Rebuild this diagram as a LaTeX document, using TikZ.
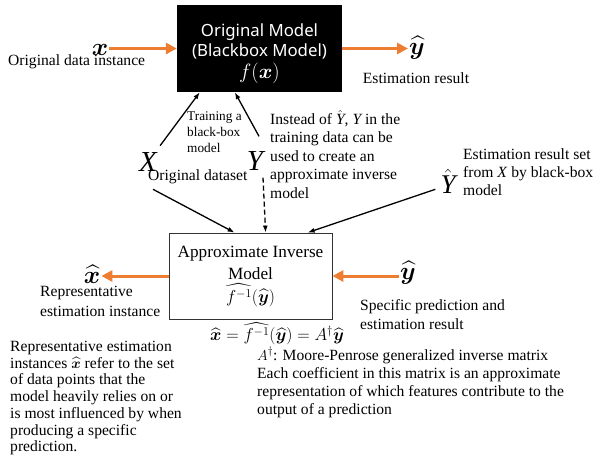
\documentclass[tikz,border=0pt]{standalone}
\usepackage{amsmath,amssymb,bm}
\usepackage{fontspec}
\setmainfont{Liberation Serif}
\newfontfamily\boxsans{Noto Sans}
\usetikzlibrary{arrows.meta}
\definecolor{myorange}{HTML}{ED7D31}
\newcommand\myfs[2]{\fontsize{#1}{#2}\selectfont}
\begin{document}
\begin{tikzpicture}[x=1pt,y=-1pt,
  txt/.style={font=\myfs{15.6}{16.8}, inner sep=0pt},
  para/.style={inner sep=0pt, align=left, anchor=north west},
  bigmath/.style={font=\myfs{24}{24}, inner sep=1pt},
  bigit/.style={font=\myfs{29}{29}\itshape, inner sep=1pt},
  oarrow/.style={draw=myorange, line width=3pt, -{Triangle[length=11pt,width=11pt]}},
  karrow/.style={draw=black, line width=1.3pt, -{Latex[length=7pt,width=5pt]}}]
\useasboundingbox (0,0) rectangle (593,474);

% black box
\node[fill=black, minimum width=165pt, minimum height=87pt, inner sep=0pt] (bb) at (259.5,48.5) {};
\node[text=white, align=center, inner sep=0pt, font=\boxsans\myfs{16.8}{20}] (bbt) at (259.5,53.5)
      {Original Model\\(Blackbox Model)\\[2pt]{\myfs{20}{20}$f(\bm{x})$}};

\node[bigmath] (xin) at (100,50) {$\bm{x}$};
\node[txt, anchor=west] (lab1) at (8,62) {Original data instance};
\draw[oarrow] (xin.east |- bb.west) -- (bb.west);

\node[bigmath] (yout) at (417,48) {$\widehat{\bm{y}}$};
\node[txt] (lab2) at (416,78) {Estimation result};
\draw[oarrow] (bb.east) -- (bb.east -| yout.west);

% dataset
\node[bigit] (X) at (148,162) {X};
\node[bigit] (Y) at (255,161) {Y};
\node[para, font=\myfs{13.3}{16}] (train) at (187,111) {Training a\\black-box\\model};
\node[txt, anchor=west] (ods) at (148,177) {Original dataset};
\node[para, font=\myfs{15.6}{18.5}] (inst) at (270,110)
  {Instead of $\hat{\mathit{Y}}$, $\mathit{Y}$ in the\\training data can be\\used to create an\\approximate inverse\\model};

\draw[karrow, shorten <=7pt] (X) -- ([xshift=23pt]bb.south west);
\draw[karrow] ([xshift=4pt,yshift=14pt]Y.north) -- ([xshift=58pt]bb.south west);

\node[font=\myfs{27}{27}, inner sep=1pt] (Yh) at (448,181) {$\hat{\mathit{Y}}$};
\node[para, font=\myfs{15.6}{18.3}] (est) at (463,148)
  {Estimation result set\\from \textit{X} by black-box\\model};

% approximate inverse model
\node[draw=black!80, line width=0.8pt, minimum width=163pt, minimum height=86pt,
      align=center, font=\myfs{17.2}{22.5}] (ai) at (250.5,276)
      {Approximate Inverse\\Model\\$\widehat{f^{-1}}(\widehat{\bm{y}})$};

\draw[karrow] ([xshift=5pt,yshift=-5pt]ods.south west) -- ([xshift=66pt]ai.north west);
\draw[karrow, dash pattern=on 5pt off 3pt] ([xshift=8pt,yshift=-6pt]Y.south) -- ([xshift=97pt]ai.north west);
\draw[karrow] ([xshift=-4pt,yshift=5pt]Yh.south west) -- ([xshift=139pt]ai.north west);

\node[bigmath] (xh) at (92,274) {$\widehat{\bm{x}}$};
\draw[oarrow] (ai.west) -- (ai.west -| xh.east);
\node[para, font=\myfs{15.6}{20}] (rep) at (40,286) {Representative\\estimation instance};

\node[bigmath] (yh2) at (408,273) {$\widehat{\bm{y}}$};
\draw[oarrow] (yh2.west |- ai.east) -- (ai.east);
\node[para, font=\myfs{15.6}{19}] (spec) at (360,299) {Specific prediction and\\estimation result};

\node[font=\myfs{17}{17}, inner sep=0pt] (eq) at (277,334)
  {$\widehat{\bm{x}} = \widehat{f^{-1}}(\widehat{\bm{y}}) = A^{\dagger}\widehat{\bm{y}}$};

\node[para, font=\myfs{15.6}{16.7}] (bl) at (10,341)
  {Representative estimation\\instances $\widehat{\bm{x}}$ refer to the set\\of data points that the\\model heavily relies on or\\is most influenced by when\\producing a specific\\prediction.};

\node[para, font=\myfs{15.6}{18}] (br) at (257,347)
  {$A^{\dagger}$: Moore-Penrose generalized inverse matrix\\Each coefficient in this matrix is an approximate\\representation of which features contribute to the\\output of a prediction};
\end{tikzpicture}
\end{document}
